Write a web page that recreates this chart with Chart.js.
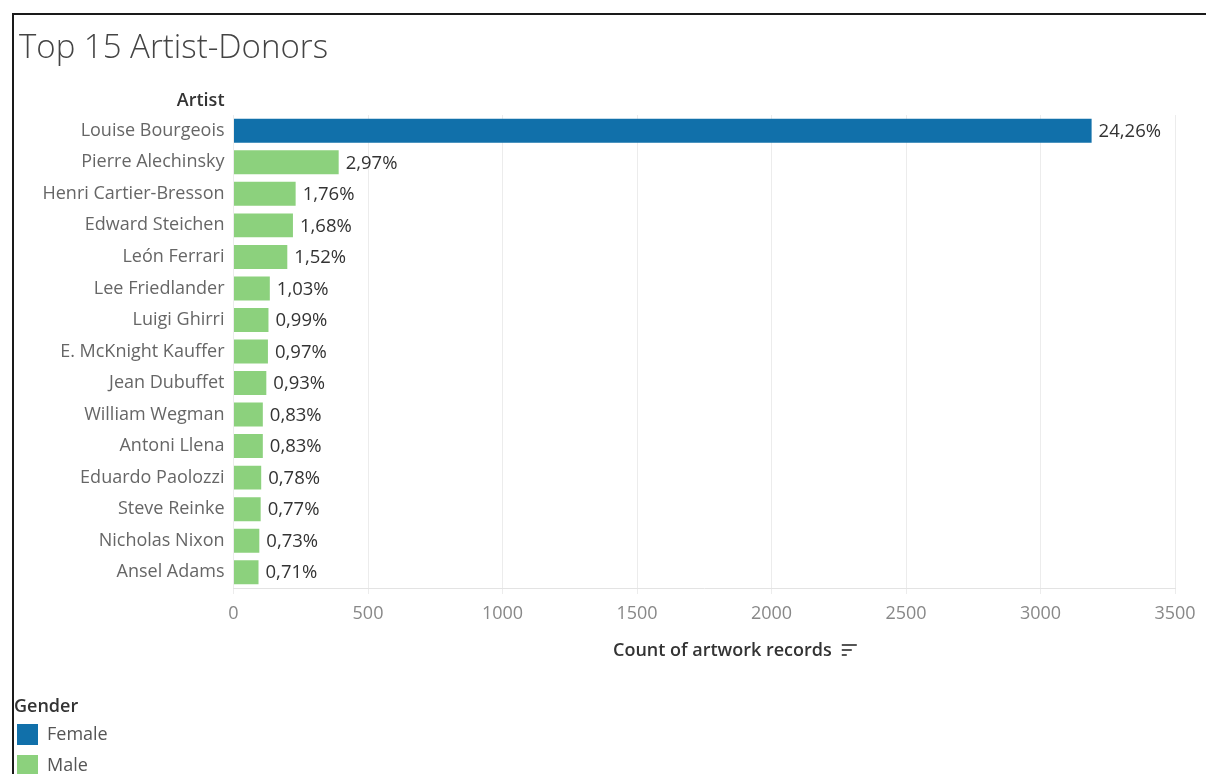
<!DOCTYPE html>
<html>
<head>
<meta charset="utf-8">
<title>Top 15 Artist-Donors</title>
<script src="https://cdn.jsdelivr.net/npm/chart.js@4/dist/chart.umd.min.js"></script>
<style>
  html, body { margin: 0; padding: 0; background: #ffffff; }
  canvas { display: block; }
</style>
</head>
<body>
<canvas id="chart" width="1206" height="774"></canvas>
<script>
// Artists ranked by number of donated artwork records
const artists = [
  'Louise Bourgeois', 'Pierre Alechinsky', 'Henri Cartier-Bresson', 'Edward Steichen',
  'León Ferrari', 'Lee Friedlander', 'Luigi Ghirri', 'E. McKnight Kauffer',
  'Jean Dubuffet', 'William Wegman', 'Antoni Llena', 'Eduardo Paolozzi',
  'Steve Reinke', 'Nicholas Nixon', 'Ansel Adams'
];
const genders = [
  'Female', 'Male', 'Male', 'Male', 'Male', 'Male', 'Male', 'Male',
  'Male', 'Male', 'Male', 'Male', 'Male', 'Male', 'Male'
];
const records = [3190, 391, 231, 221, 200, 135, 130, 128, 122, 109, 109, 103, 101, 96, 93];
// all artwork records in the collection (share of total is printed next to each bar)
const totalRecords = 13150;
const genderLegend = ['Female', 'Male'];
const axisMax = 3500;
const axisStep = 500;

const palette = { Female: '#1170aa', Male: '#8cd17d' };
const FONT = '"Open Sans", "Noto Sans", sans-serif';

function shareLabel(v) {
  return (v / totalRecords * 100).toFixed(2).replace('.', ',') + '%';
}

const decorations = {
  id: 'decorations',
  beforeDraw(chart) {
    const ctx = chart.ctx;
    ctx.save();
    ctx.fillStyle = '#ffffff';
    ctx.fillRect(0, 0, chart.width, chart.height);
    ctx.restore();
  },
  afterDatasetsDraw(chart) {
    const ctx = chart.ctx;
    const meta = chart.getDatasetMeta(0);
    ctx.save();
    ctx.font = '18.5px ' + FONT;
    ctx.fillStyle = '#333333';
    ctx.textAlign = 'left';
    ctx.textBaseline = 'middle';
    meta.data.forEach((bar, i) => {
      ctx.fillText(shareLabel(records[i]), bar.x + 7, bar.y + 1);
    });
    ctx.restore();
  },
  afterDraw(chart) {
    const ctx = chart.ctx;
    const area = chart.chartArea;
    ctx.save();

    // frame
    ctx.strokeStyle = '#1a1a1a';
    ctx.lineWidth = 2;
    ctx.beginPath();
    ctx.moveTo(13, 774);
    ctx.lineTo(13, 14);
    ctx.lineTo(1206, 14);
    ctx.stroke();

    // title
    ctx.font = '300 33px ' + FONT;
    ctx.fillStyle = '#444444';
    ctx.textAlign = 'left';
    ctx.textBaseline = 'middle';
    ctx.fillText('Top 15 Artist-Donors', 19, 49);

    // row header
    ctx.font = '600 18px ' + FONT;
    ctx.fillStyle = '#333333';
    ctx.textAlign = 'right';
    ctx.fillText('Artist', area.left - 9, 101);

    // x-axis title with sort glyph
    ctx.textAlign = 'left';
    ctx.font = '600 18px ' + FONT;
    const title = 'Count of artwork records';
    const tx = 613;
    ctx.fillText(title, tx, 651);
    const gx = tx + ctx.measureText(title).width + 10;
    ctx.fillStyle = '#555555';
    ctx.fillRect(gx, 644, 15, 2);
    ctx.fillRect(gx, 649, 10, 2);
    ctx.fillRect(gx, 654, 5, 2);

    // legend
    ctx.fillStyle = '#333333';
    ctx.font = '600 18px ' + FONT;
    ctx.fillText('Gender', 14, 707);
    ctx.font = '18px ' + FONT;
    genderLegend.forEach((g, i) => {
      const y = 724 + i * 31;
      ctx.fillStyle = palette[g];
      ctx.fillRect(17, y, 21, 21);
      ctx.fillStyle = '#555555';
      ctx.fillText(g, 47, y + 11);
    });
    ctx.restore();
  }
};

new Chart(document.getElementById('chart'), {
  type: 'bar',
  data: {
    labels: artists,
    datasets: [{
      label: 'Count of artwork records',
      data: records,
      backgroundColor: genders.map(g => palette[g]),
      borderWidth: 0,
      categoryPercentage: 0.76,
      barPercentage: 1
    }]
  },
  options: {
    indexAxis: 'y',
    responsive: false,
    animation: false,
    devicePixelRatio: 1,
    layout: { padding: { left: 0, top: 115, right: 31, bottom: 0 } },
    plugins: {
      legend: { display: false },
      tooltip: { enabled: false },
      title: { display: false }
    },
    scales: {
      x: {
        position: 'bottom',
        min: 0,
        max: axisMax,
        ticks: {
          stepSize: axisStep,
          color: '#888888',
          font: { family: FONT, size: 18 },
          padding: 9,
          maxRotation: 0,
          callback: v => String(v)
        },
        grid: { color: '#ececec', tickLength: 6, drawTicks: true },
        border: { display: true, color: '#e3e3e3' },
        afterFit(s) { s.height = 186; s.paddingLeft = 0; s.paddingRight = 0; }
      },
      y: {
        ticks: {
          color: '#666666',
          font: { family: FONT, size: 18 },
          padding: 9,
          autoSkip: false
        },
        grid: { display: false, drawTicks: false, tickLength: 0 },
        border: { display: false },
        afterFit(s) { s.width = 233.5; s.paddingTop = 0; s.paddingBottom = 0; }
      }
    }
  },
  plugins: [decorations]
});
</script>
</body>
</html>
